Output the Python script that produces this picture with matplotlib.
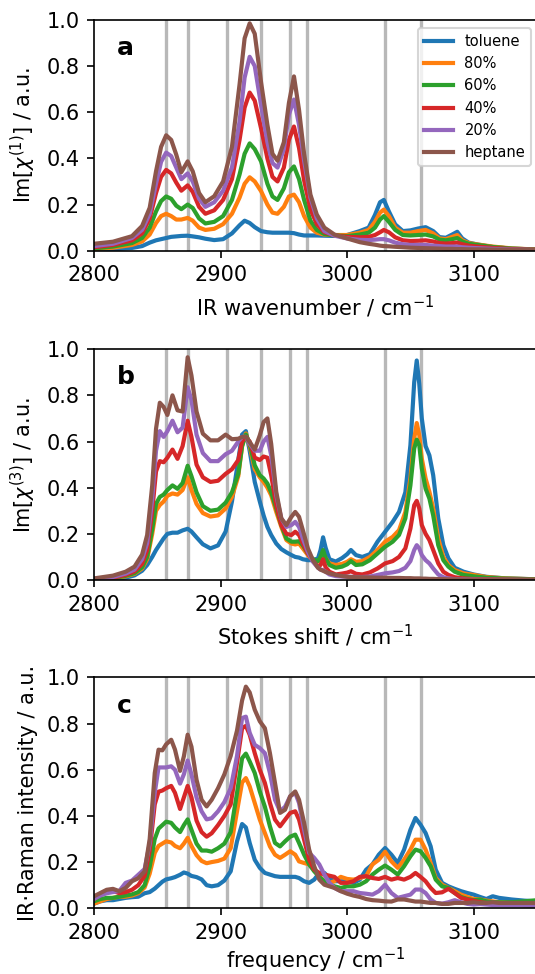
import matplotlib
matplotlib.use('Agg')
import matplotlib.pyplot as plt

#---------------------------------------------
# Data
#---------------------------------------------

labels = ['toluene', '80%', '60%', '40%', '20%', 'heptane']
marker_lines = [2857, 2874, 2905, 2932, 2955, 2968, 3030, 3058]

# Panel a : IR spectra
xa = [2800, 2815, 2830, 2838, 2844, 2849, 2853, 2857, 2861, 2865,
      2869, 2874, 2878, 2883, 2888, 2895, 2902, 2909, 2915, 2919,
      2923, 2927, 2932, 2937, 2941, 2945, 2950, 2954, 2958, 2962,
      2966, 2971, 2976, 2982, 2990, 3000, 3010, 3017, 3022, 3026,
      3029, 3033, 3038, 3044, 3050, 3056, 3062, 3068, 3073, 3078,
      3083, 3087, 3091, 3096, 3103, 3115, 3130, 3150, 3200]
a_toluene = [0.003, 0.006, 0.012, 0.020, 0.035, 0.045, 0.050, 0.055, 0.060, 0.062,
             0.064, 0.065, 0.062, 0.058, 0.052, 0.046, 0.050, 0.075, 0.110, 0.130,
             0.120, 0.102, 0.085, 0.080, 0.078, 0.078, 0.078, 0.078, 0.076, 0.070,
             0.066, 0.066, 0.066, 0.065, 0.064, 0.068, 0.085, 0.100, 0.155, 0.210,
             0.220, 0.170, 0.114, 0.085, 0.088, 0.096, 0.102, 0.085, 0.059, 0.056,
             0.070, 0.082, 0.053, 0.035, 0.027, 0.016, 0.009, 0.005, 0.002]
a_80 = [0.008, 0.013, 0.025, 0.040, 0.070, 0.120, 0.150, 0.160, 0.150, 0.135,
        0.135, 0.142, 0.130, 0.100, 0.090, 0.095, 0.115, 0.160, 0.230, 0.290,
        0.318, 0.300, 0.258, 0.200, 0.165, 0.160, 0.190, 0.235, 0.243, 0.210,
        0.150, 0.100, 0.078, 0.070, 0.068, 0.068, 0.078, 0.090, 0.125, 0.165,
        0.178, 0.150, 0.100, 0.078, 0.078, 0.085, 0.090, 0.075, 0.053, 0.050,
        0.060, 0.068, 0.045, 0.033, 0.027, 0.018, 0.010, 0.005, 0.002]
a_60 = [0.010, 0.018, 0.033, 0.055, 0.100, 0.170, 0.215, 0.235, 0.225, 0.195,
        0.180, 0.200, 0.185, 0.140, 0.118, 0.125, 0.150, 0.220, 0.330, 0.420,
        0.465, 0.440, 0.387, 0.290, 0.235, 0.220, 0.270, 0.340, 0.365, 0.310,
        0.220, 0.130, 0.090, 0.072, 0.066, 0.063, 0.070, 0.078, 0.100, 0.135,
        0.150, 0.125, 0.090, 0.068, 0.066, 0.068, 0.070, 0.062, 0.048, 0.045,
        0.050, 0.055, 0.040, 0.030, 0.025, 0.016, 0.009, 0.005, 0.002]
a_40 = [0.015, 0.025, 0.045, 0.075, 0.140, 0.250, 0.320, 0.350, 0.335, 0.295,
        0.260, 0.283, 0.255, 0.190, 0.160, 0.175, 0.220, 0.310, 0.480, 0.620,
        0.685, 0.650, 0.530, 0.400, 0.320, 0.300, 0.360, 0.480, 0.538, 0.445,
        0.305, 0.180, 0.115, 0.080, 0.066, 0.060, 0.058, 0.060, 0.068, 0.080,
        0.090, 0.080, 0.058, 0.045, 0.042, 0.043, 0.045, 0.040, 0.033, 0.031,
        0.033, 0.035, 0.028, 0.022, 0.018, 0.012, 0.007, 0.004, 0.002]
a_20 = [0.020, 0.030, 0.055, 0.090, 0.160, 0.290, 0.385, 0.425, 0.410, 0.360,
        0.310, 0.335, 0.300, 0.225, 0.190, 0.210, 0.260, 0.360, 0.560, 0.750,
        0.840, 0.800, 0.630, 0.470, 0.380, 0.360, 0.440, 0.590, 0.655, 0.545,
        0.390, 0.230, 0.140, 0.085, 0.065, 0.053, 0.047, 0.046, 0.048, 0.050,
        0.050, 0.045, 0.035, 0.028, 0.025, 0.025, 0.025, 0.022, 0.020, 0.018,
        0.018, 0.018, 0.015, 0.013, 0.011, 0.008, 0.005, 0.003, 0.001]
a_heptane = [0.030, 0.039, 0.063, 0.107, 0.186, 0.344, 0.450, 0.500, 0.480, 0.416,
             0.340, 0.387, 0.344, 0.250, 0.210, 0.236, 0.300, 0.450, 0.720, 0.920,
             0.985, 0.940, 0.730, 0.545, 0.420, 0.390, 0.470, 0.640, 0.755, 0.610,
             0.420, 0.243, 0.157, 0.100, 0.070, 0.053, 0.037, 0.030, 0.026, 0.022,
             0.020, 0.019, 0.017, 0.015, 0.013, 0.012, 0.011, 0.010, 0.009, 0.008,
             0.008, 0.007, 0.007, 0.006, 0.006, 0.005, 0.004, 0.003, 0.001]

# Panel b : Raman spectra
xb = [2800, 2815, 2825, 2832, 2838, 2842, 2846, 2849, 2852, 2855,
      2858, 2862, 2866, 2870, 2874, 2877, 2881, 2886, 2892, 2898,
      2904, 2909, 2914, 2917, 2920, 2923, 2927, 2931, 2934, 2937,
      2940, 2944, 2948, 2952, 2956, 2959, 2962, 2965, 2969, 2973,
      2977, 2979, 2981, 2983, 2986, 2991, 2996, 3000, 3003, 3007,
      3012, 3018, 3024, 3030, 3036, 3041, 3046, 3050, 3053, 3055,
      3057, 3059, 3062, 3065, 3068, 3072, 3076, 3080, 3085, 3092,
      3100, 3110, 3125, 3150, 3200]
b_toluene = [0.001, 0.004, 0.010, 0.020, 0.040, 0.065, 0.100, 0.130, 0.155, 0.180,
             0.200, 0.205, 0.205, 0.215, 0.222, 0.210, 0.185, 0.155, 0.137, 0.150,
             0.210, 0.340, 0.520, 0.630, 0.645, 0.560, 0.425, 0.340, 0.280, 0.230,
             0.195, 0.158, 0.134, 0.120, 0.108, 0.100, 0.097, 0.090, 0.086, 0.086,
             0.094, 0.130, 0.185, 0.140, 0.090, 0.080, 0.095, 0.112, 0.130, 0.108,
             0.100, 0.112, 0.166, 0.209, 0.252, 0.295, 0.380, 0.584, 0.857, 0.951,
             0.850, 0.700, 0.580, 0.540, 0.454, 0.267, 0.151, 0.094, 0.053, 0.036,
             0.024, 0.014, 0.007, 0.003, 0.001]
b_80 = [0.002, 0.007, 0.016, 0.027, 0.050, 0.090, 0.200, 0.300, 0.325, 0.340,
        0.365, 0.375, 0.370, 0.390, 0.445, 0.390, 0.330, 0.290, 0.275, 0.280,
        0.310, 0.360, 0.450, 0.580, 0.635, 0.580, 0.480, 0.445, 0.425, 0.400,
        0.367, 0.295, 0.230, 0.173, 0.158, 0.154, 0.158, 0.137, 0.108, 0.086,
        0.079, 0.095, 0.112, 0.095, 0.072, 0.065, 0.070, 0.079, 0.090, 0.079,
        0.082, 0.100, 0.130, 0.166, 0.187, 0.216, 0.295, 0.440, 0.612, 0.680,
        0.627, 0.526, 0.440, 0.382, 0.310, 0.180, 0.100, 0.065, 0.043, 0.029,
        0.022, 0.013, 0.007, 0.003, 0.001]
b_60 = [0.002, 0.008, 0.018, 0.030, 0.055, 0.100, 0.220, 0.330, 0.360, 0.370,
        0.390, 0.410, 0.395, 0.420, 0.495, 0.450, 0.380, 0.320, 0.300, 0.305,
        0.335, 0.380, 0.460, 0.580, 0.630, 0.590, 0.497, 0.454, 0.440, 0.418,
        0.380, 0.310, 0.238, 0.180, 0.166, 0.166, 0.168, 0.150, 0.115, 0.090,
        0.082, 0.100, 0.130, 0.095, 0.065, 0.053, 0.058, 0.068, 0.082, 0.065,
        0.068, 0.086, 0.115, 0.144, 0.166, 0.195, 0.267, 0.410, 0.570, 0.608,
        0.584, 0.483, 0.396, 0.353, 0.280, 0.151, 0.086, 0.058, 0.036, 0.022,
        0.016, 0.010, 0.006, 0.003, 0.001]
b_40 = [0.003, 0.010, 0.022, 0.037, 0.070, 0.130, 0.300, 0.470, 0.515, 0.510,
        0.530, 0.565, 0.525, 0.580, 0.690, 0.620, 0.500, 0.445, 0.425, 0.430,
        0.460, 0.480, 0.520, 0.600, 0.620, 0.600, 0.530, 0.520, 0.535, 0.530,
        0.454, 0.324, 0.238, 0.200, 0.195, 0.209, 0.195, 0.158, 0.115, 0.082,
        0.058, 0.065, 0.090, 0.055, 0.036, 0.024, 0.028, 0.032, 0.038, 0.027,
        0.024, 0.033, 0.050, 0.072, 0.082, 0.100, 0.137, 0.223, 0.324, 0.343,
        0.310, 0.238, 0.200, 0.173, 0.130, 0.072, 0.036, 0.022, 0.012, 0.007,
        0.004, 0.003, 0.002, 0.001, 0.000]
b_20 = [0.004, 0.013, 0.028, 0.045, 0.090, 0.160, 0.350, 0.560, 0.645, 0.620,
        0.645, 0.690, 0.640, 0.660, 0.835, 0.780, 0.630, 0.550, 0.515, 0.515,
        0.545, 0.560, 0.600, 0.620, 0.620, 0.590, 0.560, 0.560, 0.600, 0.620,
        0.540, 0.367, 0.267, 0.230, 0.238, 0.252, 0.230, 0.180, 0.122, 0.079,
        0.053, 0.045, 0.043, 0.036, 0.024, 0.017, 0.015, 0.014, 0.014, 0.013,
        0.013, 0.015, 0.022, 0.029, 0.033, 0.039, 0.053, 0.082, 0.130, 0.151,
        0.137, 0.108, 0.086, 0.072, 0.050, 0.024, 0.012, 0.007, 0.004, 0.003,
        0.002, 0.001, 0.001, 0.000, 0.000]
b_heptane = [0.007, 0.019, 0.036, 0.058, 0.110, 0.195, 0.410, 0.655, 0.768, 0.750,
             0.715, 0.800, 0.735, 0.730, 0.965, 0.886, 0.730, 0.634, 0.605, 0.605,
             0.630, 0.610, 0.612, 0.620, 0.620, 0.598, 0.565, 0.627, 0.684, 0.700,
             0.590, 0.382, 0.267, 0.238, 0.274, 0.295, 0.274, 0.216, 0.137, 0.086,
             0.053, 0.045, 0.040, 0.035, 0.029, 0.022, 0.017, 0.014, 0.013, 0.012,
             0.012, 0.011, 0.010, 0.010, 0.009, 0.009, 0.008, 0.008, 0.007, 0.007,
             0.007, 0.006, 0.006, 0.005, 0.005, 0.004, 0.004, 0.003, 0.003, 0.002,
             0.002, 0.001, 0.001, 0.000, 0.000]

# Panel c : IR-Raman
xc = [2800, 2805, 2810, 2815, 2820, 2825, 2830, 2835, 2840, 2844,
      2848, 2851, 2854, 2857, 2861, 2864, 2868, 2871, 2874, 2877,
      2881, 2885, 2889, 2893, 2898, 2903, 2908, 2913, 2917, 2920,
      2923, 2927, 2931, 2935, 2939, 2943, 2947, 2951, 2955, 2959,
      2962, 2966, 2970, 2974, 2978, 2982, 2986, 2990, 2995, 3000,
      3005, 3010, 3015, 3020, 3025, 3030, 3035, 3040, 3045, 3050,
      3054, 3058, 3062, 3066, 3070, 3075, 3080, 3085, 3090, 3095,
      3100, 3105, 3110, 3115, 3120, 3130, 3140, 3150, 3200]
c_toluene = [0.020, 0.030, 0.035, 0.035, 0.040, 0.045, 0.048, 0.050, 0.065, 0.070,
             0.085, 0.100, 0.115, 0.125, 0.130, 0.135, 0.145, 0.155, 0.150, 0.140,
             0.135, 0.125, 0.100, 0.095, 0.100, 0.120, 0.160, 0.290, 0.365, 0.350,
             0.283, 0.210, 0.175, 0.153, 0.146, 0.139, 0.136, 0.136, 0.136, 0.136,
             0.131, 0.117, 0.110, 0.124, 0.153, 0.153, 0.131, 0.117, 0.117, 0.117,
             0.110, 0.124, 0.167, 0.190, 0.232, 0.261, 0.232, 0.196, 0.254, 0.340,
             0.391, 0.362, 0.326, 0.268, 0.167, 0.110, 0.095, 0.084, 0.074, 0.066,
             0.059, 0.049, 0.040, 0.052, 0.045, 0.038, 0.033, 0.030, 0.025]
c_80 = [0.020, 0.030, 0.040, 0.045, 0.050, 0.050, 0.055, 0.065, 0.090, 0.150,
        0.240, 0.270, 0.280, 0.290, 0.285, 0.270, 0.260, 0.280, 0.305, 0.270,
        0.230, 0.205, 0.195, 0.200, 0.205, 0.215, 0.260, 0.420, 0.545, 0.564,
        0.528, 0.456, 0.384, 0.326, 0.268, 0.232, 0.218, 0.232, 0.247, 0.232,
        0.203, 0.196, 0.190, 0.167, 0.139, 0.117, 0.110, 0.117, 0.136, 0.127,
        0.124, 0.131, 0.139, 0.190, 0.210, 0.245, 0.203, 0.175, 0.210, 0.254,
        0.297, 0.297, 0.254, 0.196, 0.131, 0.102, 0.088, 0.074, 0.059, 0.049,
        0.040, 0.038, 0.033, 0.030, 0.026, 0.023, 0.020, 0.020, 0.018]
c_60 = [0.030, 0.040, 0.045, 0.045, 0.050, 0.055, 0.060, 0.070, 0.100, 0.180,
        0.300, 0.345, 0.360, 0.375, 0.370, 0.350, 0.330, 0.360, 0.385, 0.340,
        0.280, 0.250, 0.250, 0.245, 0.260, 0.280, 0.330, 0.500, 0.650, 0.670,
        0.636, 0.586, 0.506, 0.440, 0.355, 0.283, 0.268, 0.290, 0.310, 0.319,
        0.283, 0.232, 0.190, 0.160, 0.136, 0.117, 0.102, 0.095, 0.088, 0.095,
        0.095, 0.102, 0.117, 0.146, 0.167, 0.185, 0.167, 0.146, 0.182, 0.225,
        0.254, 0.247, 0.218, 0.182, 0.124, 0.095, 0.088, 0.066, 0.049, 0.040,
        0.035, 0.038, 0.030, 0.026, 0.026, 0.026, 0.030, 0.035, 0.035]
c_40 = [0.040, 0.060, 0.075, 0.075, 0.065, 0.070, 0.080, 0.100, 0.140, 0.250,
        0.450, 0.505, 0.510, 0.520, 0.530, 0.500, 0.430, 0.480, 0.530, 0.480,
        0.380, 0.330, 0.310, 0.325, 0.360, 0.400, 0.450, 0.630, 0.780, 0.790,
        0.752, 0.672, 0.600, 0.543, 0.456, 0.384, 0.355, 0.384, 0.413, 0.420,
        0.384, 0.297, 0.210, 0.167, 0.153, 0.146, 0.141, 0.136, 0.110, 0.110,
        0.117, 0.136, 0.139, 0.131, 0.127, 0.136, 0.124, 0.131, 0.124, 0.136,
        0.153, 0.136, 0.117, 0.088, 0.066, 0.069, 0.084, 0.066, 0.045, 0.038,
        0.033, 0.026, 0.023, 0.020, 0.019, 0.016, 0.013, 0.012, 0.010]
c_20 = [0.040, 0.055, 0.065, 0.070, 0.075, 0.110, 0.120, 0.145, 0.170, 0.280,
        0.500, 0.610, 0.610, 0.610, 0.615, 0.600, 0.540, 0.580, 0.640, 0.580,
        0.480, 0.420, 0.385, 0.390, 0.420, 0.460, 0.520, 0.660, 0.824, 0.830,
        0.760, 0.708, 0.694, 0.672, 0.586, 0.470, 0.420, 0.440, 0.485, 0.500,
        0.456, 0.340, 0.240, 0.218, 0.190, 0.146, 0.110, 0.088, 0.074, 0.074,
        0.074, 0.066, 0.063, 0.059, 0.074, 0.102, 0.066, 0.045, 0.052, 0.059,
        0.081, 0.081, 0.066, 0.038, 0.023, 0.020, 0.026, 0.035, 0.026, 0.019,
        0.016, 0.018, 0.016, 0.014, 0.014, 0.013, 0.013, 0.012, 0.010]
c_heptane = [0.052, 0.066, 0.080, 0.084, 0.074, 0.088, 0.117, 0.130, 0.160, 0.300,
             0.586, 0.687, 0.684, 0.710, 0.730, 0.687, 0.595, 0.658, 0.752, 0.700,
             0.557, 0.470, 0.441, 0.470, 0.520, 0.580, 0.660, 0.770, 0.900, 0.960,
             0.935, 0.860, 0.810, 0.780, 0.672, 0.543, 0.413, 0.427, 0.485, 0.506,
             0.470, 0.370, 0.254, 0.182, 0.124, 0.102, 0.095, 0.088, 0.074, 0.063,
             0.055, 0.049, 0.040, 0.035, 0.033, 0.030, 0.029, 0.038, 0.038, 0.033,
             0.029, 0.029, 0.026, 0.023, 0.023, 0.019, 0.019, 0.023, 0.023, 0.023,
             0.026, 0.023, 0.023, 0.026, 0.023, 0.023, 0.023, 0.023, 0.020]

#---------------------------------------------
# Panel settings
#---------------------------------------------

panels = [
    ('a', xa, [a_toluene, a_80, a_60, a_40, a_20, a_heptane],
     r'Im[$\chi^{(1)}$] / a.u.', r'IR wavenumber / cm$^{-1}$', 0.7426),
    ('b', xb, [b_toluene, b_80, b_60, b_40, b_20, b_heptane],
     r'Im[$\chi^{(3)}$] / a.u.', r'Stokes shift / cm$^{-1}$', 0.4045),
    ('c', xc, [c_toluene, c_80, c_60, c_40, c_20, c_heptane],
     'IR\u00b7Raman intensity / a.u.', r'frequency / cm$^{-1}$', 0.0675),
]

#---------------------------------------------
# Plot
#---------------------------------------------

plt.rcParams['font.size'] = 10
fig = plt.figure(figsize=(535 / 150, 974 / 150), dpi=150)

axes = []
for letter, x, series, ylabel, xlabel, bottom in panels:
    ax = fig.add_axes([0.1757, bottom, 0.828, 0.237])
    for xv in marker_lines:
        ax.axvline(xv, color='0.72', lw=1.6, zorder=1)
    for y, lab in zip(series, labels):
        ax.plot(x, y, lw=2.0, label=lab, zorder=2, solid_joinstyle='round')
    ax.set_xlim(2800, 3150)
    ax.set_ylim(0, 1)
    ax.set_xticks([2800, 2900, 3000, 3100])
    ax.set_yticks([0.0, 0.2, 0.4, 0.6, 0.8, 1.0])
    # last panel: keep the label inside the canvas
    ax.set_xlabel(xlabel, labelpad=4 if letter != 'c' else 1.5)
    ax.set_ylabel(ylabel)
    ax.text(0.052, 0.848, letter, transform=ax.transAxes,
            fontweight='bold', fontsize=12)
    axes.append(ax)

axes[0].legend(loc='upper right', bbox_to_anchor=(531 / 535, 1 - 28 / 974),
               bbox_transform=fig.transFigure, borderaxespad=0, fontsize=7)

fig.savefig('out.png', dpi=150)
